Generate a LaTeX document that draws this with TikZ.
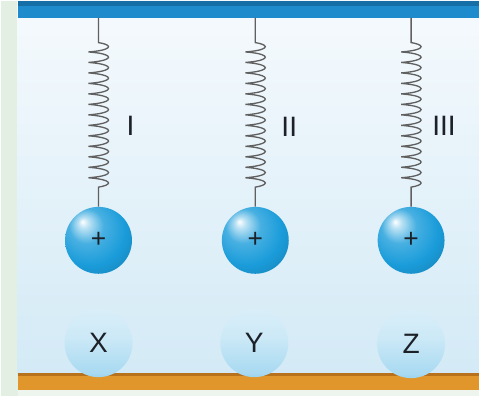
\documentclass[tikz,border=0pt]{standalone}
\usepackage{fontspec}
\setmainfont{Liberation Sans}
\usetikzlibrary{decorations.pathmorphing}
\definecolor{BarBlue}{HTML}{1E8CCC}
\definecolor{BarDark}{HTML}{156FA6}
\definecolor{ShelfOrange}{HTML}{E0962A}
\definecolor{ShelfDark}{HTML}{B8721C}
\definecolor{SideGreen}{HTML}{E2EFE2}
\definecolor{SkyTop}{HTML}{F6FAFD}
\definecolor{SkyLow}{HTML}{D3EAF6}
\definecolor{BallBlue}{HTML}{1A9CDA}
\definecolor{SpringGray}{HTML}{606060}
\definecolor{InkDark}{HTML}{1C2128}

% shiny charged ball
\pgfdeclareradialshading{chargeball}{\pgfpoint{-12bp}{14bp}}{%
  color(0bp)=(white); color(4bp)=(white!70!BallBlue);
  color(13bp)=(BallBlue!80!white); color(26bp)=(BallBlue);
  color(40bp)=(BallBlue!82!black); color(55bp)=(BallBlue!62!black)}
% pale neutral sphere
\pgfdeclareverticalshading{paleball}{100bp}{%
  color(0bp)=(BallBlue); color(10bp)=(BallBlue!75!white);
  color(28bp)=(BallBlue!38!white); color(55bp)=(BallBlue!22!white);
  color(100bp)=(BallBlue!10!white)}

\begin{document}
\begin{tikzpicture}[x=0.02cm, y=-0.02cm,
  charged/.style={circle, inner sep=0pt, minimum size=1.34cm, shading=chargeball,
    text=InkDark, font=\fontsize{15}{15}\selectfont},
  neutral/.style={circle, inner sep=0pt, minimum size=1.36cm, shading=paleball,
    text=InkDark, font=\fontsize{16}{16}\selectfont},
  spring/.style={draw=SpringGray, line width=0.75pt,
    decoration={coil, aspect=0.15, amplitude=0.2cm, segment length=0.21cm,
      pre length=0.5cm, post length=0.36cm}},
  tag/.style={text=InkDark, font=\fontsize{16}{16}\selectfont}
]
% background
\fill[SideGreen] (0,0) rectangle (479,396);
\shade[top color=SkyTop, bottom color=SkyLow] (17,0) rectangle (479,374);
\fill[SideGreen!60!white] (17,390) rectangle (479,396);

% ceiling bar
\fill[BarBlue] (17,0) rectangle (479,17);
\fill[BarDark] (17,0) rectangle (479,5);

% floor bar
\fill[ShelfOrange] (17,373) rectangle (479,390);
\fill[ShelfDark] (17,373) rectangle (479,376);

% hanging charged balls
\node[charged] (b1) at (98,240)  {+};
\node[charged] (b2) at (255,240) {+};
\node[charged] (b3) at (411,240) {+};

\coordinate (t1) at (98,17);
\coordinate (t2) at (255,17);
\coordinate (t3) at (411,17);

\draw[spring] decorate {(t1) -- (b1.north)};
\draw[spring] decorate {(t2) -- (b2.north)};
\draw[spring] decorate {(t3) -- (b3.north)};

\node[tag] (l1) at (130,125) {I};
\node[tag] (l2) at (289,126) {II};
\node[tag] (l3) at (444,125) {III};

% spheres on the floor
\node[neutral] (x) at (98,343)  {X};
\node[neutral] (y) at (254,343) {Y};
\node[neutral] (z) at (411,344) {Z};
\end{tikzpicture}
\end{document}
